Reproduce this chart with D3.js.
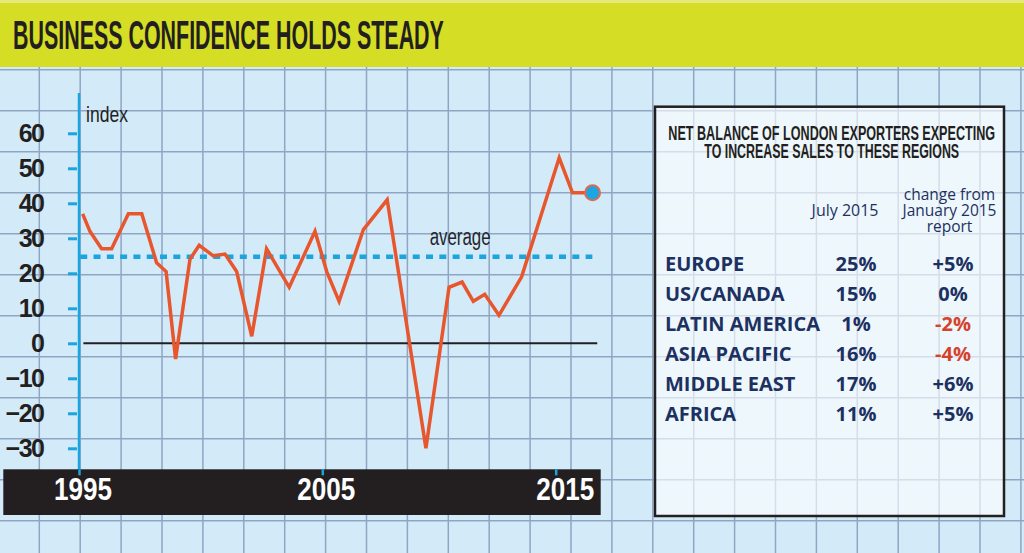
<!DOCTYPE html>
<html>
<head>
<meta charset="utf-8">
<script src="https://cdn.jsdelivr.net/npm/d3@7"></script>
<style>
  html, body { margin: 0; padding: 0; background: #d3ebf8; }
  svg { display: block; }
</style>
</head>
<body>
<div id="chart"></div>
<script>
// Chart values
var years = [1995.15, 1995.45, 1995.93, 1996.34, 1997.03, 1997.58, 1998.19, 1998.58,
  1998.97, 1999.56, 1999.94, 2000.52, 2001.00, 2001.48, 2002.10, 2002.71, 2003.64,
  2004.70, 2005.19, 2005.72, 2006.76, 2007.78, 2009.44, 2010.43, 2010.99, 2011.47,
  2011.96, 2012.57, 2013.54, 2015.15, 2015.72, 2016.58];
var index = [37, 32, 27, 27, 37, 37, 23, 20.5, -4.5, 24, 28, 25, 25.5, 20.5, 2, 27, 16,
  32, 20.5, 12, 32.5, 41, -30, 16, 17.5, 12, 14, 8, 19, 53, 43, 43];
var averageIndex = 24.7;
var yTicks = [-30, -20, -10, 0, 10, 20, 30, 40, 50, 60];
var yearTicks = [1995, 2005, 2015];

var tableTitle = ["NET BALANCE OF LONDON EXPORTERS EXPECTING", "TO INCREASE SALES TO THESE REGIONS"];
var regions = ["EUROPE", "US/CANADA", "LATIN AMERICA", "ASIA PACIFIC", "MIDDLE EAST", "AFRICA"];
var july2015 = [25, 15, 1, 16, 17, 11];
var changeFromJan = [5, 0, -2, -4, 6, 5];

var svgWidth = 1024;
var svgHeight = 553;

var narrowFont = "'Liberation Sans Narrow', 'Liberation Sans', Arial, sans-serif";

var svg = d3.select("#chart")
  .append("svg")
  .attr("width", svgWidth)
  .attr("height", svgHeight);

// squeeze a text horizontally to a given width (condensed headline look)
function squeeze(sel, width) {
  sel.each(function() {
    var natural = this.getComputedTextLength();
    var sx = natural > 0 ? width / natural : 1;
    var x = +this.getAttribute("x") || 0;
    var y = +this.getAttribute("y") || 0;
    d3.select(this)
      .attr("x", 0).attr("y", 0)
      .attr("transform", `translate(${x},${y}) scale(${sx},1)`);
  });
}

// background + graph paper grid
svg.append("rect")
  .attr("width", svgWidth)
  .attr("height", svgHeight)
  .attr("fill", "#d3ebf8");

var grid = svg.append("g")
  .attr("stroke", "#8fa5c3")
  .attr("stroke-width", 1.5);

grid.selectAll("line.v")
  .data(d3.range(39.3, svgWidth, 40.9))
  .enter()
  .append("line")
  .attr("class", "v")
  .attr("x1", d => d).attr("x2", d => d)
  .attr("y1", 0).attr("y2", svgHeight);

grid.selectAll("line.h")
  .data(d3.range(69.7, svgHeight, 41))
  .enter()
  .append("line")
  .attr("class", "h")
  .attr("x1", 0).attr("x2", svgWidth)
  .attr("y1", d => d).attr("y2", d => d);

// title band
svg.append("rect")
  .attr("width", svgWidth)
  .attr("height", 67)
  .attr("fill", "#d5dd24");
svg.append("rect")
  .attr("width", svgWidth)
  .attr("height", 3)
  .attr("fill", "#e4e97a");

svg.append("text")
  .attr("x", 13)
  .attr("y", 48.5)
  .attr("font-family", narrowFont)
  .attr("font-weight", "bold")
  .attr("font-size", 41)
  .attr("fill", "#231f20")
  .text("BUSINESS CONFIDENCE HOLDS STEADY")
  .call(squeeze, 431);

// scales
var xScale = d3.scaleLinear()
  .domain([1995, 2005, 2015])
  .range([79, 322.3, 555.7]);

var yScale = d3.scaleLinear()
  .domain([-30, 60])
  .range([448.3, 133.3]);

var chartGroup = svg.append("g");

// zero line
chartGroup.append("line")
  .attr("x1", xScale(1995.18))
  .attr("x2", xScale(2016.78))
  .attr("y1", yScale(0))
  .attr("y2", yScale(0))
  .attr("stroke", "#231f20")
  .attr("stroke-width", 2);

// average dashed line
chartGroup.append("line")
  .attr("x1", xScale(1995.05))
  .attr("x2", xScale(2016.57))
  .attr("y1", yScale(averageIndex))
  .attr("y2", yScale(averageIndex))
  .attr("stroke", "#1ba4de")
  .attr("stroke-width", 4.5)
  .attr("stroke-dasharray", "7 6.3");

chartGroup.append("text")
  .attr("x", xScale(2009.6))
  .attr("y", yScale(averageIndex) - 11.5)
  .attr("font-family", narrowFont)
  .attr("font-size", 23)
  .attr("fill", "#26262e")
  .text("average")
  .call(squeeze, 61);

// black year band
svg.append("rect")
  .attr("x", 3.3)
  .attr("y", 469.3)
  .attr("width", 597.4)
  .attr("height", 45.7)
  .attr("fill", "#231f20");

// y axis
var leftAxis = d3.axisLeft(yScale)
  .tickValues(yTicks)
  .tickSize(9)
  .tickPadding(24.5);

var yAxisGroup = chartGroup.append("g")
  .attr("transform", "translate(77,0)")
  .call(leftAxis);
yAxisGroup.select(".domain").remove();
yAxisGroup.selectAll(".tick line")
  .attr("stroke", "#1ba4de")
  .attr("stroke-width", 3);
yAxisGroup.selectAll(".tick text")
  .attr("font-family", narrowFont)
  .attr("font-weight", "bold")
  .attr("font-size", 25)
  .attr("letter-spacing", -1.5)
  .attr("fill", "#231f20");

chartGroup.append("line")
  .attr("x1", 79).attr("x2", 79)
  .attr("y1", 93).attr("y2", 474)
  .attr("stroke", "#1ba4de")
  .attr("stroke-width", 2.5);

chartGroup.append("text")
  .attr("x", 86)
  .attr("y", 122)
  .attr("font-family", narrowFont)
  .attr("font-size", 22)
  .attr("fill", "#231f20")
  .text("index")
  .call(squeeze, 42);

// x axis inside the band
var bottomAxis = d3.axisBottom(xScale)
  .tickValues(yearTicks)
  .tickFormat(d3.format("d"))
  .tickSize(6)
  .tickPadding(3);

var xAxisGroup = svg.append("g")
  .attr("transform", "translate(0,469.3)")
  .call(bottomAxis);
xAxisGroup.select(".domain").remove();
xAxisGroup.selectAll(".tick line")
  .attr("stroke", "#1ba4de")
  .attr("stroke-width", 2.5);
xAxisGroup.selectAll(".tick text")
  .attr("dx", d => d === 2015 ? 9 : 3.5)
  .attr("font-family", narrowFont)
  .attr("font-weight", "bold")
  .attr("font-size", 31)
  .attr("textLength", 58)
  .attr("lengthAdjust", "spacingAndGlyphs")
  .attr("fill", "#ffffff");

// index line
var series = years.map((yr, i) => ({ year: yr, value: index[i] }));

var lineGen = d3.line()
  .x(d => xScale(d.year))
  .y(d => yScale(d.value));

chartGroup.append("path")
  .datum(series)
  .attr("d", lineGen)
  .attr("fill", "none")
  .attr("stroke", "#e8562d")
  .attr("stroke-width", 3.5)
  .attr("stroke-linejoin", "miter");

var last = series[series.length - 1];
chartGroup.append("circle")
  .attr("cx", xScale(last.year))
  .attr("cy", yScale(last.value))
  .attr("r", 7.5)
  .attr("fill", "#1aa6e2")
  .attr("stroke", "#de6a50")
  .attr("stroke-width", 2);

// table panel
var table = svg.append("g");

table.append("rect")
  .attr("x", 655)
  .attr("y", 106.7)
  .attr("width", 349)
  .attr("height", 409.3)
  .attr("fill", "#ffffff")
  .attr("fill-opacity", 0.62)
  .attr("stroke", "#231f20")
  .attr("stroke-width", 2.5);

var titleLens = [327, 255];
table.selectAll("text.ttl")
  .data(tableTitle)
  .enter()
  .append("text")
  .attr("class", "ttl")
  .attr("x", 831.7)
  .attr("y", (d, i) => 140 + i * 18.3)
  .attr("text-anchor", "middle")
  .attr("font-family", narrowFont)
  .attr("font-weight", "bold")
  .attr("font-size", 20)
  .attr("fill", "#231f20")
  .text(d => d)
  .each(function(d, i) { d3.select(this).call(squeeze, titleLens[i]); });

var headFont = "'Open Sans', sans-serif";
var navy = "#1c3161";

table.append("text")
  .attr("x", 878.5)
  .attr("y", 216)
  .attr("text-anchor", "end")
  .attr("font-family", headFont)
  .attr("font-size", 16)
  .attr("fill", navy)
  .text("July 2015");

table.selectAll("text.chg")
  .data(["change from", "January 2015", "report"])
  .enter()
  .append("text")
  .attr("class", "chg")
  .attr("x", 949.5)
  .attr("y", (d, i) => 200 + i * 16)
  .attr("text-anchor", "middle")
  .attr("font-family", headFont)
  .attr("font-size", 15.5)
  .attr("fill", navy)
  .text(d => d);

var rowY = d3.scalePoint()
  .domain(regions)
  .range([270.7, 420.7]);

var rows = table.selectAll("g.row")
  .data(regions)
  .enter()
  .append("g")
  .attr("class", "row")
  .attr("transform", d => `translate(0,${rowY(d)})`)
  .attr("font-family", headFont)
  .attr("font-weight", "bold")
  .attr("font-size", 20);

rows.append("text")
  .attr("x", 665)
  .attr("fill", navy)
  .text(d => d);

rows.append("text")
  .attr("x", 856)
  .attr("text-anchor", "middle")
  .attr("fill", navy)
  .text((d, i) => july2015[i] + "%");

rows.append("text")
  .attr("x", 953)
  .attr("text-anchor", "middle")
  .attr("fill", (d, i) => changeFromJan[i] < 0 ? "#d5432d" : navy)
  .text((d, i) => {
    var c = changeFromJan[i];
    return (c > 0 ? "+" : "") + c + "%";
  });
</script>
</body>
</html>
